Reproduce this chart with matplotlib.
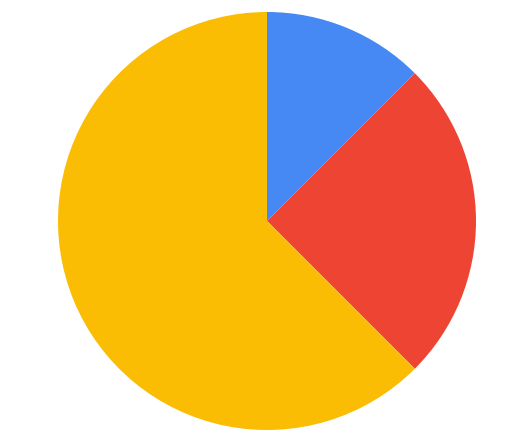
import matplotlib
matplotlib.use("Agg")
import matplotlib.pyplot as plt

labels = ["A", "B", "C"]
values = [1, 2, 5]
colors = ["#4688F4", "#EE4434", "#FBBC04"]

fig = plt.figure(figsize=(5.32, 4.44), dpi=100)
ax = fig.add_axes([58/532, (444-430)/444, 418/532, 418/444])
ax.pie(values, colors=colors, startangle=90, counterclock=False, radius=1,
       wedgeprops=dict(linewidth=0))
ax.set_xlim(-1, 1)
ax.set_ylim(-1, 1)
ax.set_aspect("auto")
ax.axis("off")
fig.savefig("out.png", dpi=100)
